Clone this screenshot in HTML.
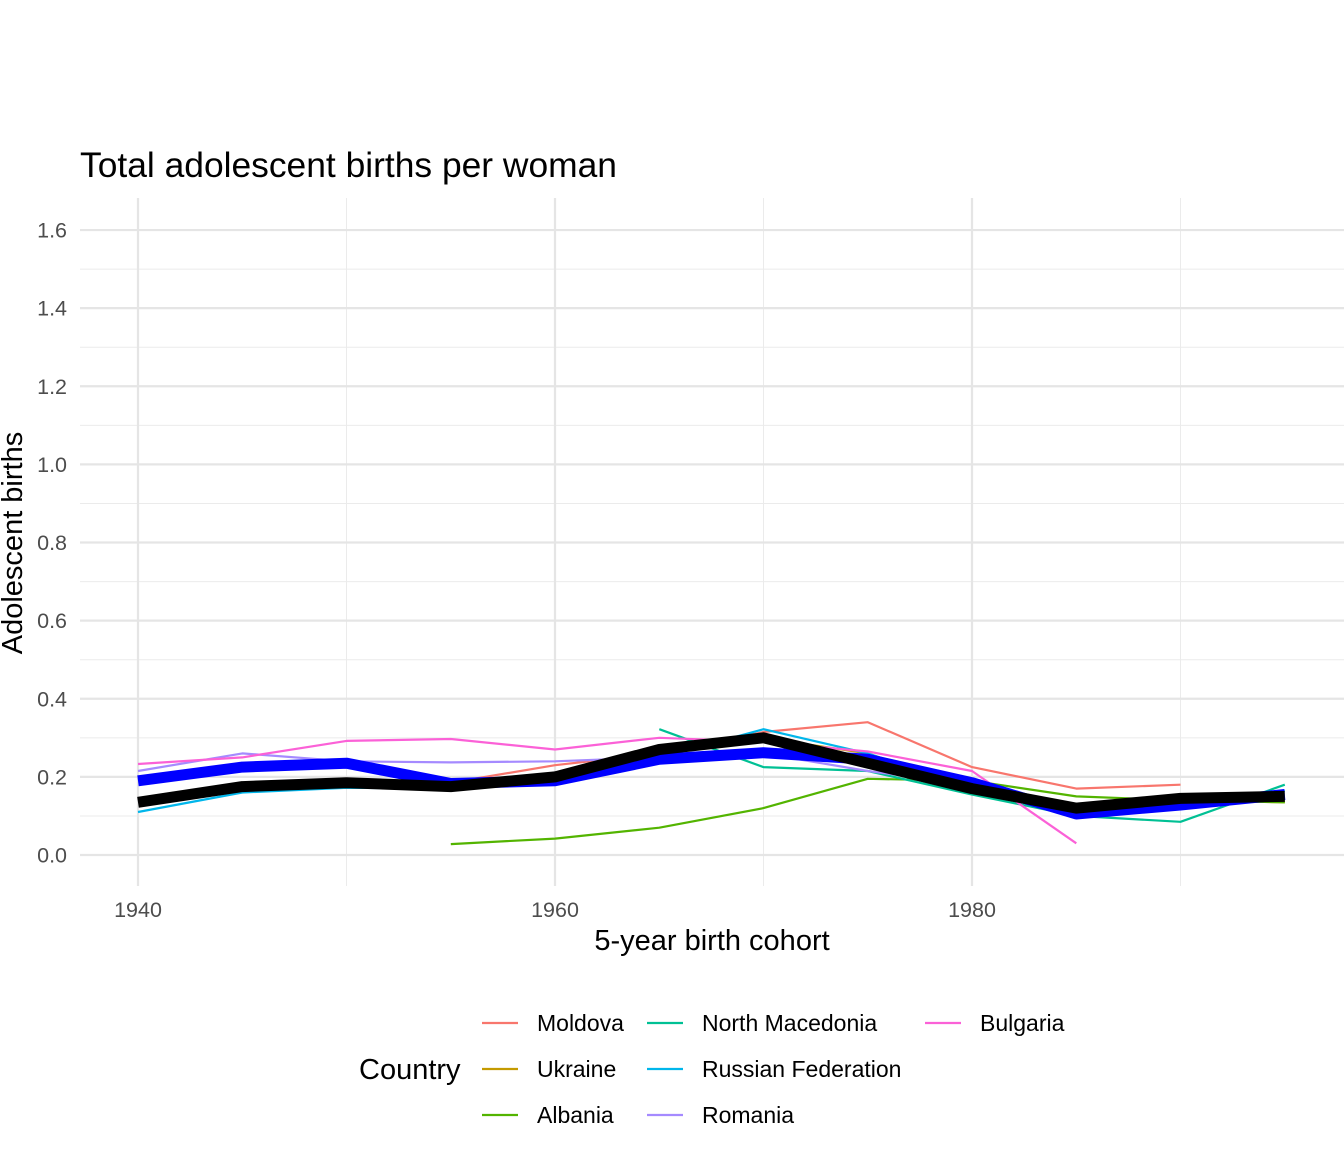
<!DOCTYPE html>
<html><head><meta charset="utf-8"><style>
html,body{margin:0;padding:0;background:#fff;}
svg text{font-family:"Liberation Sans",sans-serif;}
</style></head><body>
<svg id="chart" width="1344" height="1152" xmlns="http://www.w3.org/2000/svg">
<text x="80" y="177" font-size="35" fill="#000" textLength="537" lengthAdjust="spacingAndGlyphs">Total adolescent births per woman</text>
<text transform="translate(22,543) rotate(-90)" text-anchor="middle" font-size="29" fill="#000">Adolescent births</text>
<text x="712" y="950" text-anchor="middle" font-size="29" fill="#000">5-year birth cohort</text>
<g id="grid"></g><g id="series"></g><g id="ticks"></g>
<g id="legend">
<text x="359" y="1079" font-size="29" fill="#000">Country</text>
</g>
</svg>
<script>
const years=[1940,1945,1950,1955,1960,1965,1970,1975,1980,1985,1990,1995];
const countries=["Moldova","Ukraine","Albania","North Macedonia","Russian Federation","Romania","Bulgaria"];
const colors=["#F8766D","#C49A00","#53B400","#00C094","#00B6EB","#A58AFF","#FB61D7"];
const moldova=[null,null,null,0.185,0.23,0.26,0.315,0.34,0.225,0.17,0.18,null];
const ukraine=[0.14,0.175,0.185,0.175,0.2,0.27,0.3,0.26,0.17,0.12,0.14,0.135];
const albania=[null,null,null,0.028,0.042,0.07,0.12,0.195,0.19,0.15,0.14,0.135];
const macedonia=[null,null,null,null,null,0.322,0.225,0.215,0.155,0.10,0.085,0.18];
const russia=[0.11,0.16,0.172,0.17,0.19,0.25,0.322,0.26,0.17,0.105,0.125,0.165];
const romania=[0.215,0.26,0.24,0.237,0.24,0.25,0.26,0.215,0.18,null,null,null];
const bulgaria=[0.233,0.25,0.292,0.297,0.27,0.30,0.29,0.265,0.215,0.03,null,null];
const blueAvg=[0.19,0.225,0.235,0.183,0.19,0.245,0.262,0.245,0.185,0.105,0.128,0.155];
const blackAvg=[0.135,0.175,0.185,0.175,0.2,0.27,0.3,0.235,0.17,0.12,0.145,0.15];
const yTicks=[0,0.2,0.4,0.6,0.8,1.0,1.2,1.4,1.6];
const xTicks=[1940,1960,1980];
const NS="http://www.w3.org/2000/svg";
const X=v=>138+(v-1940)*20.85;
const Y=v=>855-v*390.6;
function mk(tag,attrs,parent){const e=document.createElementNS(NS,tag);for(const k in attrs)e.setAttribute(k,attrs[k]);parent.appendChild(e);return e;}
const grid=document.getElementById('grid'),ticks=document.getElementById('ticks'),series=document.getElementById('series'),legend=document.getElementById('legend');
for(let k=0;k<8;k++){const v=0.1+0.2*k;const l=mk('line',{x1:80,x2:1344,y1:Y(v),y2:Y(v),stroke:'#ebebeb','stroke-width':1},grid);

}
[1950,1970,1990].forEach(v=>{const l=mk('line',{x1:X(v),x2:X(v),y1:198,y2:886,stroke:'#ebebeb','stroke-width':1},grid);

});
yTicks.forEach(v=>{const l=mk('line',{x1:80,x2:1344,y1:Y(v),y2:Y(v),stroke:'#e5e5e5','stroke-width':2.2},grid);


const t=mk('text',{x:67,y:Y(v)+7.5,'text-anchor':'end','font-size':21.5,fill:'#4d4d4d'},ticks);t.textContent=v.toFixed(1);

});
xTicks.forEach(v=>{const l=mk('line',{x1:X(v),x2:X(v),y1:198,y2:886,stroke:'#e5e5e5','stroke-width':2.2},grid);


const t=mk('text',{x:X(v),y:917,'text-anchor':'middle','font-size':21.5,fill:'#4d4d4d'},ticks);t.textContent=v;

});
function path(vals,color,w,name){let d='',pen=false;vals.forEach((v,i)=>{if(v==null){pen=false;return;}d+=(pen?'L':'M')+X(years[i]).toFixed(1)+','+Y(v).toFixed(1);pen=true;});
const p=mk('path',{d:d,fill:'none',stroke:color,'stroke-width':w,'stroke-linejoin':'round'},series);

}
const data=[moldova,ukraine,albania,macedonia,russia,romania,bulgaria];
data.forEach((s,i)=>path(s,colors[i],2.2,'line-'+countries[i].toLowerCase().replace(/ /g,'-')));
path(blueAvg,'#0000ff',11,'line-blue-highlight');
path(blackAvg,'#000000',11,'line-black-highlight');
const lx=[482,647,925],ly=[1023,1069,1115];
countries.forEach((c,i)=>{const col=Math.floor(i/3),row=i%3;
const g=mk('g',{},legend);


mk('line',{x1:lx[col],x2:lx[col]+36,y1:ly[row],y2:ly[row],stroke:colors[i],'stroke-width':2.2},g);
const t=mk('text',{x:lx[col]+55,y:ly[row]+8,'font-size':23,fill:'#000'},g);t.textContent=c;});
</script>
</body></html>
